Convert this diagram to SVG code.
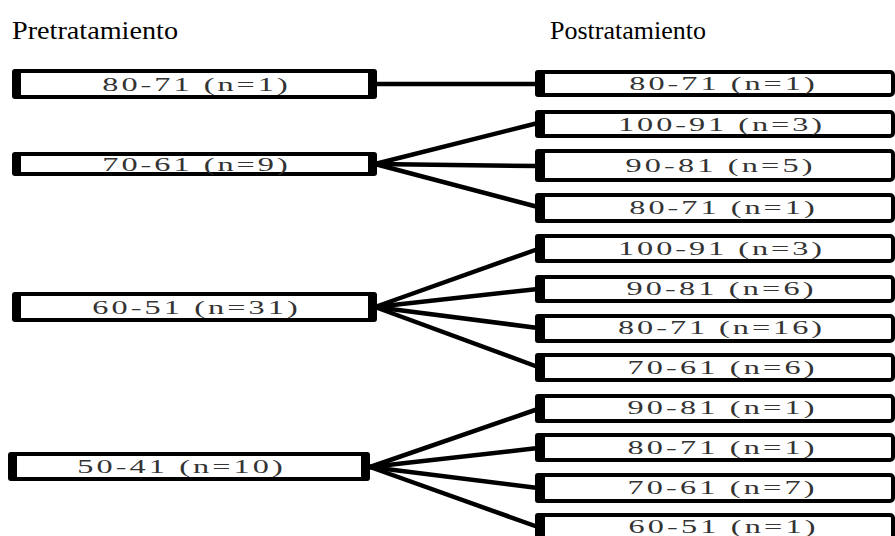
<svg xmlns="http://www.w3.org/2000/svg" width="895" height="536" viewBox="0 0 895 536">
  <style>
    .title { font-family: "Liberation Serif", "Times New Roman", serif; font-size: 26px; fill: #000; }
    .box { fill: #fff; stroke: #000; stroke-width: 4; }
    .bar { fill: #000; }
    .lbl { font-family: "Liberation Serif", "Times New Roman", serif; font-size: 19px; fill: #333; text-anchor: middle; }
    .link { stroke: #000; stroke-width: 4.5; fill: none; stroke-linecap: round; }
  </style>
  <rect width="895" height="536" fill="#fff"/>

  <text class="title" x="12" y="39" textLength="166" lengthAdjust="spacingAndGlyphs">Pretratamiento</text>
  <text class="title" x="550" y="39" textLength="156" lengthAdjust="spacingAndGlyphs">Postratamiento</text>

  <!-- connectors -->
  <g id="connectors">
    <line class="link" x1="375" y1="84" x2="538" y2="84"/>
    <line class="link" x1="375" y1="164" x2="538" y2="123"/>
    <line class="link" x1="375" y1="164" x2="538" y2="166"/>
    <line class="link" x1="375" y1="164" x2="538" y2="207"/>
    <line class="link" x1="375" y1="307" x2="538" y2="249"/>
    <line class="link" x1="375" y1="307" x2="538" y2="289"/>
    <line class="link" x1="375" y1="307" x2="538" y2="328"/>
    <line class="link" x1="375" y1="307" x2="538" y2="367"/>
    <line class="link" x1="370" y1="467" x2="538" y2="409"/>
    <line class="link" x1="370" y1="467" x2="538" y2="448"/>
    <line class="link" x1="370" y1="467" x2="538" y2="488"/>
    <line class="link" x1="370" y1="467" x2="538" y2="527"/>
  </g>

  <!-- pre-treatment ranges (labels widened 1.7x, then spaced to width) -->
  <g id="pre-80-71">
    <rect class="box" x="14" y="71" width="361" height="26" rx="3"/>
    <rect class="bar" x="12" y="69" width="9" height="30" rx="3"/>
    <rect class="bar" x="368" y="69" width="9" height="30" rx="3"/>
    <text class="lbl" transform="translate(195,91) scale(1.7,1)" textLength="109" lengthAdjust="spacing">80-71 (n=1)</text>
  </g>
  <g id="pre-70-61">
    <rect class="box" x="14" y="154" width="361" height="20" rx="3"/>
    <rect class="bar" x="12" y="152" width="9" height="24" rx="3"/>
    <rect class="bar" x="368" y="152" width="9" height="24" rx="3"/>
    <text class="lbl" transform="translate(195,171) scale(1.7,1)" textLength="109" lengthAdjust="spacing">70-61 (n=9)</text>
  </g>
  <g id="pre-60-51">
    <rect class="box" x="14" y="294" width="361" height="26" rx="3"/>
    <rect class="bar" x="12" y="292" width="9" height="30" rx="3"/>
    <rect class="bar" x="368" y="292" width="9" height="30" rx="3"/>
    <text class="lbl" transform="translate(195,314) scale(1.7,1)" textLength="121" lengthAdjust="spacing">60-51 (n=31)</text>
  </g>
  <g id="pre-50-41">
    <rect class="box" x="10" y="454" width="358" height="25" rx="3"/>
    <rect class="bar" x="8" y="452" width="9" height="29" rx="3"/>
    <rect class="bar" x="361" y="452" width="9" height="29" rx="3"/>
    <text class="lbl" transform="translate(180,473) scale(1.7,1)" textLength="121" lengthAdjust="spacing">50-41 (n=10)</text>
  </g>

  <!-- post-treatment ranges -->
  <g id="post-a-80-71">
    <rect class="box" x="537" y="72" width="356" height="23" rx="3"/>
    <rect class="bar" x="535" y="70" width="10" height="27" rx="3"/>
    <text class="lbl" transform="translate(722,90) scale(1.7,1)" textLength="109" lengthAdjust="spacing">80-71 (n=1)</text>
  </g>
  <g id="post-b-100-91">
    <rect class="box" x="537" y="112" width="356" height="24" rx="3"/>
    <rect class="bar" x="535" y="110" width="10" height="28" rx="3"/>
    <text class="lbl" transform="translate(720,131) scale(1.7,1)" textLength="120" lengthAdjust="spacing">100-91 (n=3)</text>
  </g>
  <g id="post-b-90-81">
    <rect class="box" x="537" y="151" width="356" height="29" rx="3"/>
    <rect class="bar" x="535" y="149" width="10" height="33" rx="3"/>
    <text class="lbl" transform="translate(719,172) scale(1.7,1)" textLength="110" lengthAdjust="spacing">90-81 (n=5)</text>
  </g>
  <g id="post-b-80-71">
    <rect class="box" x="537" y="195" width="356" height="26" rx="3"/>
    <rect class="bar" x="535" y="193" width="10" height="30" rx="3"/>
    <text class="lbl" transform="translate(722,214) scale(1.7,1)" textLength="109" lengthAdjust="spacing">80-71 (n=1)</text>
  </g>
  <g id="post-c-100-91">
    <rect class="box" x="537" y="236" width="356" height="25" rx="3"/>
    <rect class="bar" x="535" y="234" width="10" height="29" rx="3"/>
    <text class="lbl" transform="translate(720,255) scale(1.7,1)" textLength="120" lengthAdjust="spacing">100-91 (n=3)</text>
  </g>
  <g id="post-c-90-81">
    <rect class="box" x="537" y="277" width="356" height="24" rx="3"/>
    <rect class="bar" x="535" y="275" width="10" height="28" rx="3"/>
    <text class="lbl" transform="translate(720,295) scale(1.7,1)" textLength="110" lengthAdjust="spacing">90-81 (n=6)</text>
  </g>
  <g id="post-c-80-71">
    <rect class="box" x="537" y="316" width="356" height="25" rx="3"/>
    <rect class="bar" x="535" y="314" width="10" height="29" rx="3"/>
    <text class="lbl" transform="translate(720,334) scale(1.7,1)" textLength="120" lengthAdjust="spacing">80-71 (n=16)</text>
  </g>
  <g id="post-c-70-61">
    <rect class="box" x="537" y="355" width="356" height="25" rx="3"/>
    <rect class="bar" x="535" y="353" width="10" height="29" rx="3"/>
    <text class="lbl" transform="translate(721,374) scale(1.7,1)" textLength="110" lengthAdjust="spacing">70-61 (n=6)</text>
  </g>
  <g id="post-d-90-81">
    <rect class="box" x="537" y="396" width="356" height="25" rx="3"/>
    <rect class="bar" x="535" y="394" width="10" height="29" rx="3"/>
    <text class="lbl" transform="translate(721,414) scale(1.7,1)" textLength="110" lengthAdjust="spacing">90-81 (n=1)</text>
  </g>
  <g id="post-d-80-71">
    <rect class="box" x="537" y="435" width="356" height="25" rx="3"/>
    <rect class="bar" x="535" y="433" width="10" height="29" rx="3"/>
    <text class="lbl" transform="translate(721,454) scale(1.7,1)" textLength="110" lengthAdjust="spacing">80-71 (n=1)</text>
  </g>
  <g id="post-d-70-61">
    <rect class="box" x="537" y="475" width="356" height="26" rx="3"/>
    <rect class="bar" x="535" y="473" width="10" height="30" rx="3"/>
    <text class="lbl" transform="translate(721,494) scale(1.7,1)" textLength="110" lengthAdjust="spacing">70-61 (n=7)</text>
  </g>
  <g id="post-d-60-51">
    <rect class="box" x="537" y="515" width="356" height="30" rx="3"/>
    <rect class="bar" x="535" y="513" width="10" height="34" rx="3"/>
    <text class="lbl" transform="translate(722,533) scale(1.7,1)" textLength="110" lengthAdjust="spacing">60-51 (n=1)</text>
  </g>
</svg>
